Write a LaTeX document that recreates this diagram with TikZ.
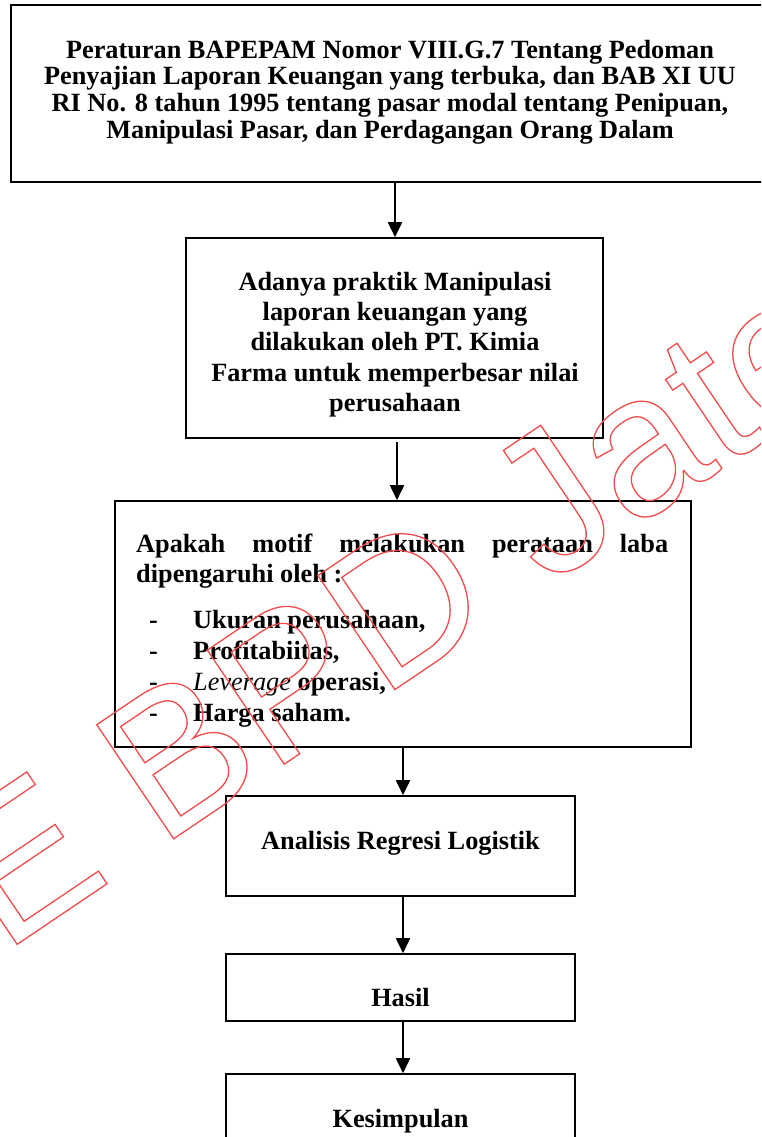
\documentclass[tikz,border=0pt]{standalone}
\usepackage{fontspec}
\setmainfont{Liberation Serif}
\newfontfamily\wmfont{Liberation Sans}
\usetikzlibrary{arrows.meta}
\definecolor{wmred}{RGB}{240,70,70}
\newcommand\outlinetext[1]{\special{pdf:literal direct q 1 Tr 1.3 w 0.94 0.3 0.3 RG}#1\special{pdf:literal direct Q}}
\begin{document}
\begin{tikzpicture}[x=1pt,y=-1pt,
  box/.style={draw, line width=1.6pt, inner sep=0pt},
  txt/.style={font=\bfseries\fontsize{26.3}{26.7}\selectfont, inner sep=0pt},
  arr/.style={line width=1.8pt, -{Triangle[length=15pt,width=14pt]}},
  wm/.style={inner sep=0pt, font=\wmfont\fontsize{200}{200}\selectfont}]
\useasboundingbox (0,0) rectangle (761,1137);
\begin{scope}
\clip (0,0) rectangle (761,1137);
% boxes
\node[box, minimum width=764pt, minimum height=177pt] (b1) at (393,93.5) {};
\node[box, minimum width=417pt, minimum height=200pt] (b2) at (394.5,338) {};
\node[box, minimum width=576pt, minimum height=246pt] (b3) at (403,624) {};
\node[box, minimum width=349pt, minimum height=100pt] (b4) at (400.5,846) {};
\node[box, minimum width=349pt, minimum height=67pt] (b5) at (400.5,987.5) {};
\node[box, minimum width=349pt, minimum height=126pt] (b6) at (400.5,1137) {};
% texts (anchor base = baseline of the last line)
\node[txt, align=center, anchor=base] (t1) at (390,138.3) {Peraturan BAPEPAM Nomor VIII.G.7 Tentang Pedoman\\Penyajian Laporan Keuangan yang terbuka, dan BAB XI UU\\RI No. 8 tahun 1995 tentang pasar modal tentang Penipuan,\\Manipulasi Pasar, dan Perdagangan Orang Dalam};
\node[txt, font=\bfseries\fontsize{26.3}{30.4}\selectfont, align=center, anchor=base] (t2) at (395,411.7) {Adanya praktik Manipulasi\\laporan keuangan yang\\dilakukan oleh PT. Kimia\\Farma untuk memperbesar nilai\\perusahaan};
\node[txt, font=\bfseries\fontsize{26.3}{31}\selectfont, align=left, anchor=base west] (t3) at (136,721.7) {\makebox[532pt][s]{Apakah motif melakukan perataan laba}\\[-1pt]dipengaruhi oleh :\\[15pt]
\hspace*{13pt}\makebox[44pt][l]{-}Ukuran perusahaan,\\
\hspace*{13pt}\makebox[44pt][l]{-}Profitabiitas,\\
\hspace*{13pt}\makebox[44pt][l]{-}\textmd{\textit{Leverage}} operasi,\\
\hspace*{13pt}\makebox[44pt][l]{-}Harga saham.};
\node[txt, anchor=base] (t4) at (400.5,849) {Analisis Regresi Logistik};
\node[txt, anchor=base] (t5) at (400.5,1006) {Hasil};
\node[txt, anchor=base] (t6) at (400.5,1127) {Kesimpulan};
% arrows
\coordinate (x1) at (395,0);
\coordinate (x2) at (397,0);
\coordinate (x3) at (403,0);
\draw[arr] (b1.south -| x1) -- (b2.north -| x1);
\draw[arr, shorten <=3pt] (b2.south -| x2) -- (b3.north -| x2);
\draw[arr] (b3.south -| x3) -- (b4.north -| x3);
\draw[arr] (b4.south -| x3) -- (b5.north -| x3);
\draw[arr] (b5.south -| x3) -- (b6.north -| x3);
% watermark
\node[wm, rotate=34, anchor=base west] (wmk) at (160,848) {\outlinetext{\llap{STIE }BPD Jateng}};
\end{scope}
\end{tikzpicture}
\end{document}
